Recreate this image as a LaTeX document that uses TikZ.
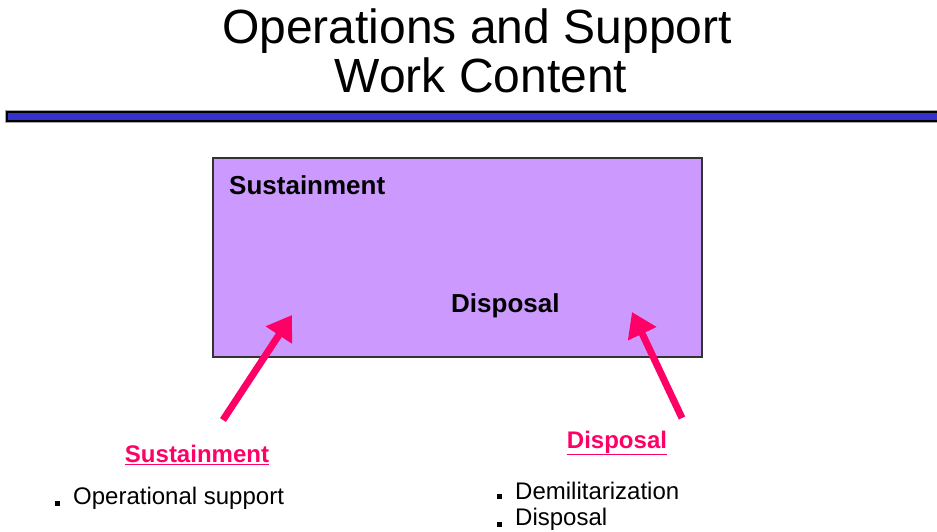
\documentclass[tikz,border=0pt]{standalone}
\usepackage{fontspec}
\setmainfont{Liberation Sans}
\usetikzlibrary{arrows.meta}
\definecolor{boxfill}{HTML}{CC99FF}
\definecolor{barblue}{HTML}{3333CC}
\definecolor{pinkarrow}{HTML}{FF0066}
\tikzset{
  title/.style={font=\fontsize{48}{50}\selectfont, inner sep=0pt, anchor=center},
  boxlabel/.style={font=\fontsize{26}{28}\selectfont\bfseries, inner sep=0pt, anchor=west},
  headlabel/.style={font=\fontsize{24}{26}\selectfont\bfseries, text=pinkarrow, inner sep=0pt, anchor=center},
  item/.style={font=\fontsize{24}{28}\selectfont, inner sep=0pt, anchor=west},
  bul/.style={fill=black, minimum size=5, inner sep=0pt},
  bigarrow/.style={draw=pinkarrow, line width=7, -{Triangle[length=24,width=30]}}
}
\begin{document}
\begin{tikzpicture}[x=1pt,y=-1pt]
\useasboundingbox (0,0) rectangle (937,531);
\node[title] (t1) at (477,31) {Operations and Support};
\node[title] (t2) at (481,75) {Work Content};
\path[fill=barblue, draw=black, line width=1.2] (7,112) rectangle (945,121);
\draw[gray!70, line width=0.6] (5,110.5) rectangle (945,122.5);
\node[draw=black!80, line width=1.2, fill=boxfill, minimum width=489, minimum height=199, inner sep=0pt] (box) at (457.5,257.5) {};
\node[boxlabel] (bs) at (229,185) {Sustainment};
\node[boxlabel] (bd) at (451,306) {Disposal};
\coordinate (atl) at (223,420);
\coordinate (ath) at (292,315);
\coordinate (atr) at (682,418);
\coordinate (arh) at (632,312);
\draw[bigarrow] (atl) -- (ath);
\draw[bigarrow] (atr) -- (arh);
\node[headlabel] (hs) at (197,455) {\underline{Sustainment}};
\node[headlabel] (hd) at (617,443) {\underline{Disposal}};
\node[bul] (b1) at (57,503) {};
\node[item] (i1) at (73,498) {Operational support};
\node[bul] (b2) at (499,496) {};
\node[item] (i2) at (515,491) {Demilitarization};
\node[bul] (b3) at (499,524) {};
\node[item] (i3) at (515,519) {Disposal};
\end{tikzpicture}
\end{document}
